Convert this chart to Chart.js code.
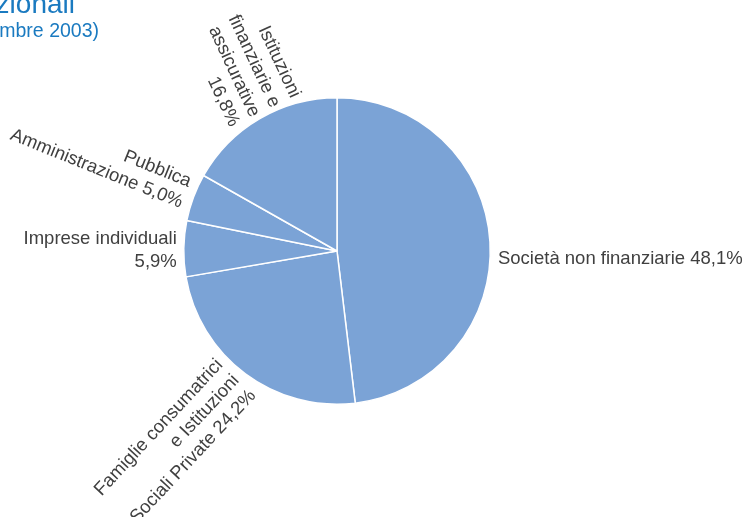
<!DOCTYPE html>
<html>
<head>
<meta charset="utf-8">
<script src="https://cdn.jsdelivr.net/npm/chart.js@4.4.1/dist/chart.umd.min.js"></script>
<style>
  html, body { margin: 0; padding: 0; background: #ffffff; }
  #wrap { width: 743px; height: 517px; position: relative; }
</style>
</head>
<body>
<div id="wrap"><canvas id="c" width="743" height="517"></canvas></div>
<script>
// Sectors, clockwise from 12 o'clock
const categories = [
  'Società non finanziarie',
  'Famiglie consumatrici e Istituzioni Sociali Private',
  'Imprese individuali',
  'Amministrazione Pubblica',
  'Istituzioni finanziarie e assicurative'
];
const shares = [48.1, 24.2, 5.9, 5.0, 16.8];

// Label text broken into lines; the value is appended to the last line
const labelLines = [
  ['Società non finanziarie'],
  ['Famiglie consumatrici', 'e Istituzioni', 'Sociali Private'],
  ['Imprese individuali', ''],
  ['Pubblica', 'Amministrazione'],
  ['Istituzioni', 'finanziarie e', 'assicurative', '']
];

const titleText = 'Ripartizione per settori istituzionali';
const subtitleText = '(dicembre 2003)';

const fmt = v => v.toFixed(1).replace('.', ',') + '%';

// Label placement style: rotation (deg), alignment, radial gap and small nudges
const labelStyle = [
  { rot: 0,   align: 'left',  gap: 8,  dx: 0,  dy: 18 },
  { rot: -47, align: 'right', gap: 7,  dx: -5, dy: -2 },
  { rot: 0,   align: 'right', gap: 7,  dx: 0,  dy: 2 },
  { rot: 22,  align: 'right', gap: 10, dx: 2,  dy: -1 },
  { rot: 65,  align: 'right', gap: 4,  dx: 7,  dy: -4 }
];

const labelFont = '18.5px "Liberation Sans", Arial, sans-serif';
const lineH = 22.5;

const pieLabels = {
  id: 'pieLabels',
  afterDraw(chart) {
    const ctx = chart.ctx;
    const meta = chart.getDatasetMeta(0);
    ctx.save();
    ctx.font = labelFont;
    ctx.fillStyle = '#404040';
    ctx.textBaseline = 'middle';
    meta.data.forEach((arc, i) => {
      const p = arc.getProps(['x', 'y', 'startAngle', 'endAngle', 'outerRadius'], true);
      const mid = (p.startAngle + p.endAngle) / 2;
      const st = labelStyle[i];
      const r = p.outerRadius + st.gap;
      const ax = p.x + Math.cos(mid) * r + st.dx;
      const ay = p.y + Math.sin(mid) * r + st.dy;
      const lines = labelLines[i].slice();
      const last = lines.length - 1;
      const val = fmt(chart.data.datasets[0].data[i]);
      lines[last] = lines[last] ? lines[last] + ' ' + val : val;
      ctx.save();
      ctx.translate(ax, ay);
      ctx.rotate(st.rot * Math.PI / 180);
      ctx.textAlign = st.align;
      const n = lines.length;
      lines.forEach((t, k) => {
        ctx.fillText(t, 0, (k - (n - 1) / 2) * lineH);
      });
      ctx.restore();
    });
    ctx.restore();

    // Heading (runs off the left edge)
    ctx.save();
    ctx.fillStyle = '#1a7ac0';
    ctx.textAlign = 'right';
    ctx.textBaseline = 'alphabetic';
    ctx.font = '28px "Liberation Sans", Arial, sans-serif';
    ctx.fillText(titleText, 75, 13);
    ctx.font = '19.5px "Liberation Sans", Arial, sans-serif';
    ctx.fillText(subtitleText, 99, 37);
    ctx.restore();
  }
};

new Chart(document.getElementById('c'), {
  type: 'pie',
  data: {
    labels: categories,
    datasets: [{
      data: shares,
      backgroundColor: '#7ba3d6',
      borderColor: '#ffffff',
      borderWidth: 1.5
    }]
  },
  options: {
    responsive: false,
    animation: false,
    layout: { padding: { left: 100, right: 169, top: 97, bottom: 112 } },
    plugins: {
      legend: { display: false },
      tooltip: { enabled: false }
    }
  },
  plugins: [pieLabels]
});
</script>
</body>
</html>
